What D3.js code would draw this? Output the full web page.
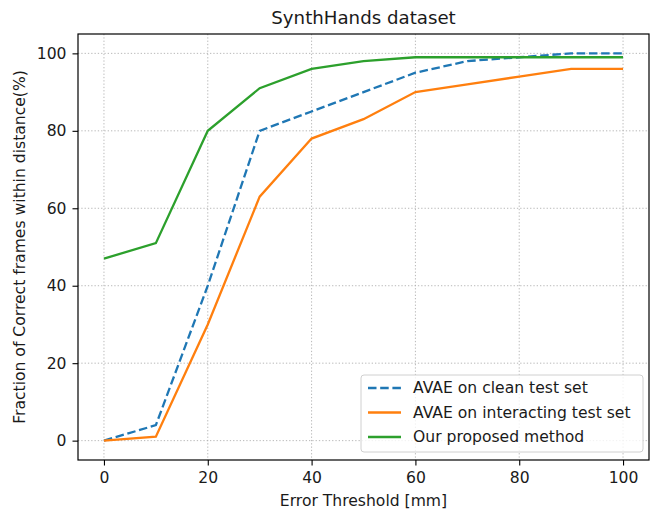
<!DOCTYPE html>
<html>
<head>
<meta charset="utf-8" />
<title>SynthHands dataset</title>
<script src="https://cdn.jsdelivr.net/npm/d3@7"></script>
<style>
  body { margin: 0; background: #fff; }
  text { font-family: "DejaVu Sans", sans-serif; fill: #1a1a1a; }
</style>
</head>
<body>
<script>

var thresholds = [0, 10, 20, 30, 40, 50, 60, 70, 80, 90, 100];
var avaeClean = [0, 4, 40, 80, 85, 90, 95, 98, 99, 100, 100];
var avaeInteract = [0, 1, 30, 63, 78, 83, 90, 92, 94, 96, 96];
var ours = [47, 51, 80, 91, 96, 98, 99, 99, 99, 99, 99];
var seriesNames = ["AVAE on clean test set", "AVAE on interacting test set", "Our proposed method"];
var xTicks = [0, 20, 40, 60, 80, 100];
var yTicks = [0, 20, 40, 60, 80, 100];

var series = [
	{ name: seriesNames[0], values: avaeClean, color: "#1f77b4", dash: "8.5,3.7" },
	{ name: seriesNames[1], values: avaeInteract, color: "#ff7f0e", dash: null },
	{ name: seriesNames[2], values: ours, color: "#2ca02c", dash: null }
];

var W = 654, H = 512;
var padL = 78, padR = 649, padT = 34, padB = 460;
var fs = "15.6px";

var svg = d3.select("body").append("svg")
	.attr("width", W)
	.attr("height", H);

var x = d3.scaleLinear().domain([-5, 105]).range([padL, padR]);
var y = d3.scaleLinear().domain([-5, 105]).range([padB, padT]);

// grid
svg.append("g").selectAll("line")
	.data(xTicks).enter().append("line")
	.attr("x1", function(d){ return x(d); })
	.attr("x2", function(d){ return x(d); })
	.attr("y1", padT).attr("y2", padB)
	.attr("stroke", "#b0b0b0").attr("stroke-width", 0.9)
	.attr("stroke-dasharray", "1.3,2");
svg.append("g").selectAll("line")
	.data(yTicks).enter().append("line")
	.attr("y1", function(d){ return y(d); })
	.attr("y2", function(d){ return y(d); })
	.attr("x1", padL).attr("x2", padR)
	.attr("stroke", "#b0b0b0").attr("stroke-width", 0.9)
	.attr("stroke-dasharray", "1.3,2");

// lines
var line = d3.line()
	.x(function(d, i){ return x(thresholds[i]); })
	.y(function(d){ return y(d); });

svg.append("g").selectAll("path")
	.data(series).enter().append("path")
	.attr("d", function(d){ return line(d.values); })
	.attr("fill", "none")
	.attr("stroke", function(d){ return d.color; })
	.attr("stroke-width", 2.3)
	.attr("stroke-dasharray", function(d){ return d.dash; });

// axes
var xAxis = svg.append("g")
	.attr("transform", "translate(0," + padB + ")")
	.call(d3.axisBottom(x).tickValues(xTicks).tickSize(5.5).tickPadding(6));
var yAxis = svg.append("g")
	.attr("transform", "translate(" + padL + ",0)")
	.call(d3.axisLeft(y).tickValues(yTicks).tickSize(5.5).tickPadding(6));
[xAxis, yAxis].forEach(function(a){
	a.select(".domain").remove();
	a.selectAll("text").style("font-size", fs).style("font-family", "DejaVu Sans").attr("fill", "#1a1a1a");
	a.selectAll("line").attr("stroke", "#000").attr("stroke-width", 1.1);
});

svg.append("rect")
	.attr("x", padL).attr("y", padT)
	.attr("width", padR - padL).attr("height", padB - padT)
	.attr("fill", "none").attr("stroke", "#000").attr("stroke-width", 1.2);

// labels
svg.append("text")
	.attr("x", (padL + padR) / 2).attr("y", 24)
	.attr("text-anchor", "middle")
	.style("font-size", "18.2px")
	.text("SynthHands dataset");

svg.append("text")
	.attr("x", (padL + padR) / 2).attr("y", 506)
	.attr("text-anchor", "middle")
	.style("font-size", fs)
	.text("Error Threshold [mm]");

svg.append("text")
	.attr("transform", "translate(25," + ((padT + padB) / 2) + ") rotate(-90)")
	.attr("text-anchor", "middle")
	.style("font-size", fs)
	.text("Fraction of Correct frames within distance(%)");

// legend
var lg = svg.append("g").attr("transform", "translate(361,375)");
lg.append("rect")
	.attr("width", 282).attr("height", 77)
	.attr("rx", 3)
	.attr("fill", "#fff").attr("fill-opacity", 0.8)
	.attr("stroke", "#d0d0d0");
var item = lg.selectAll("g.item")
	.data(series).enter().append("g")
	.attr("class", "item")
	.attr("transform", function(d, i){ return "translate(0," + (13 + i * 24.5) + ")"; });
item.append("line")
	.attr("x1", 7).attr("x2", 40)
	.attr("stroke", function(d){ return d.color; })
	.attr("stroke-width", 2.3)
	.attr("stroke-dasharray", function(d){ return d.dash; });
item.append("text")
	.attr("x", 52).attr("dy", "0.35em")
	.style("font-size", fs)
	.text(function(d){ return d.name; });

</script>
</body>
</html>
